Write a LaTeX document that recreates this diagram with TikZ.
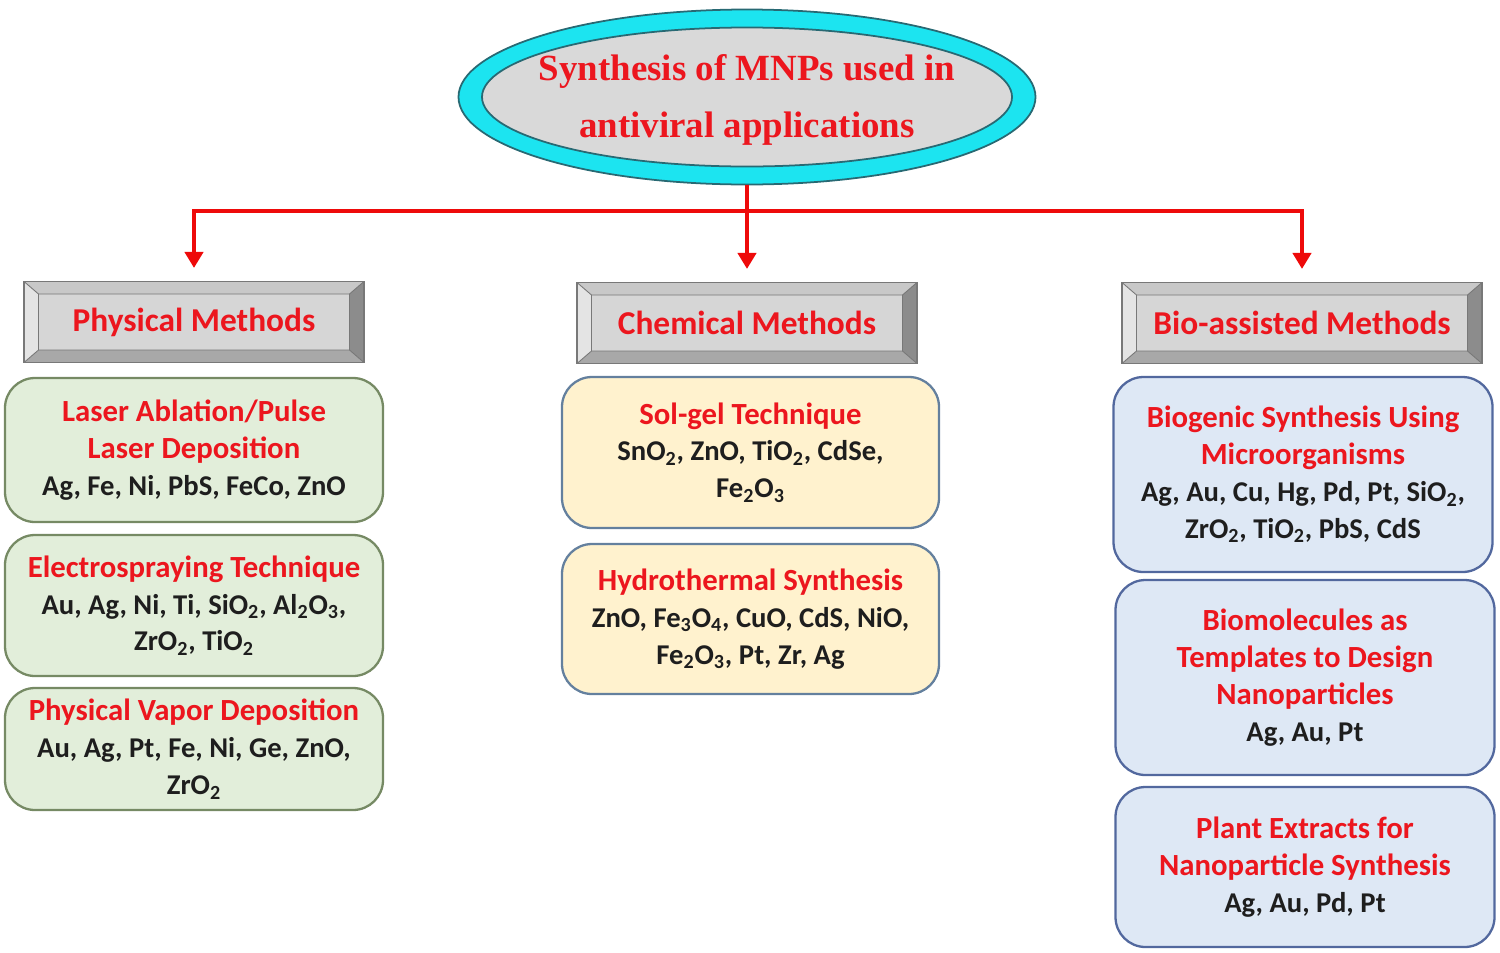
\documentclass[tikz,border=0pt]{standalone}
\usepackage{fontspec}
\setmainfont{Carlito}
\newfontfamily\titlefont{Liberation Serif}
\usetikzlibrary{shapes.geometric,arrows.meta}

\definecolor{headred}{RGB}{236,22,30}
\definecolor{linered}{RGB}{238,10,10}
\definecolor{ringcyan}{RGB}{28,228,240}
\definecolor{ringedge}{RGB}{40,105,115}
\definecolor{ellgray}{RGB}{217,217,217}
\definecolor{bevmid}{RGB}{214,214,214}
\definecolor{bevtop}{RGB}{200,200,200}
\definecolor{bevleft}{RGB}{228,228,228}
\definecolor{bevright}{RGB}{140,140,140}
\definecolor{bevbot}{RGB}{168,168,168}
\definecolor{bevline}{RGB}{120,120,120}
\definecolor{greenfill}{RGB}{226,238,218}
\definecolor{greenedge}{RGB}{118,138,100}
\definecolor{sandfill}{RGB}{255,242,206}
\definecolor{sandedge}{RGB}{100,128,158}
\definecolor{bluefill}{RGB}{222,232,245}
\definecolor{blueedge}{RGB}{82,104,158}
\definecolor{textgray}{RGB}{30,30,30}

\newcommand{\hd}[1]{{\fontsize{17.5}{21}\selectfont\color{headred}#1}}
\newcommand{\sub}[1]{\textsubscript{#1}}

\tikzset{
  ring/.style={ellipse, fill=ringcyan, draw=ringedge, line width=1pt,
    minimum width=115.4mm, minimum height=35mm, inner sep=0pt},
  titletext/.style={align=center, text=headred,
    font=\titlefont\bfseries\fontsize{21}{32}\selectfont},
  bevel/.style={rectangle, fill=bevmid, draw=bevline, line width=0.6pt,
    text=headred, font=\bfseries\fontsize{19}{22}\selectfont,
    minimum width=68mm, minimum height=16.2mm, inner sep=0pt,
    path picture={
      \path (path picture bounding box.north west) coordinate (o1)
            (path picture bounding box.north east) coordinate (o2)
            (path picture bounding box.south east) coordinate (o3)
            (path picture bounding box.south west) coordinate (o4);
      \path ([shift={(2.9mm,-2.5mm)}]o1) coordinate (i1)
            ([shift={(-2.9mm,-2.5mm)}]o2) coordinate (i2)
            ([shift={(-2.9mm,2.5mm)}]o3) coordinate (i3)
            ([shift={(2.9mm,2.5mm)}]o4) coordinate (i4);
      \fill[bevtop] (o1) -- (o2) -- (i2) -- (i1) -- cycle;
      \fill[bevright] (o2) -- (o3) -- (i3) -- (i2) -- cycle;
      \fill[bevbot] (o3) -- (o4) -- (i4) -- (i3) -- cycle;
      \fill[bevleft] (o4) -- (o1) -- (i1) -- (i4) -- cycle;
      \draw[bevline, line width=0.5pt] (i1) rectangle (i3)
        (o1) -- (i1) (o2) -- (i2) (o3) -- (i3) (o4) -- (i4);
    }},
  methodbox/.style={rectangle, rounded corners=6mm, line width=1.3pt,
    align=center, inner sep=0pt, text=textgray,
    font=\bfseries\fontsize{16.3}{21}\selectfont},
  physbox/.style={methodbox, fill=greenfill, draw=greenedge, minimum width=75.6mm},
  chembox/.style={methodbox, fill=sandfill, draw=sandedge, minimum width=75.4mm},
  biobox/.style={methodbox, fill=bluefill, draw=blueedge, minimum width=75.8mm},
  redline/.style={draw=linered, line width=2.3pt},
  redarrow/.style={redline, -{Triangle[width=3.6mm,length=3.2mm]}, shorten >=2.6mm}
}

\begin{document}
\begin{tikzpicture}[x=0.2mm,y=-0.2mm]
\useasboundingbox (0,0) rectangle (1500,952);

% title ellipse
\node[ring] (top) at (747,97) {};
\filldraw[fill=ellgray, draw=ringedge, line width=1pt] (top.center) ellipse [x radius=53mm, y radius=13.9mm];
\node[titletext] (ttl) at (747,100) {Synthesis of MNPs used in\\antiviral applications};

% method headers
\node[bevel] (phys) at (194,322) {Physical Methods};
\node[bevel] (chem) at (747,323) {Chemical Methods};
\node[bevel, minimum width=72mm] (bio) at (1302,323) {Bio-assisted Methods};

% connectors
\coordinate (split) at (747,211);
\draw[redline] (top.south) -- (split);
\draw[redarrow] (split) -| (phys.north);
\draw[redarrow] (split) -- (chem.north);
\draw[redarrow] (split) -| (bio.north);

% physical methods
\node[physbox, minimum height=28.8mm] (laser) at (194,450)
  {\hd{Laser Ablation/Pulse}\\\hd{Laser Deposition}\\Ag, Fe, Ni, PbS, FeCo, ZnO};
\node[physbox, minimum height=28.2mm] (spray) at (194,605.5)
  {\hd{Electrospraying Technique}\\Au, Ag, Ni, Ti, SiO\sub{2}, Al\sub{2}O\sub{3},\\ZrO\sub{2}, TiO\sub{2}};
\node[physbox, minimum height=24.4mm] (pvd) at (194,749)
  {\hd{Physical Vapor Deposition}\\Au, Ag, Pt, Fe, Ni, Ge, ZnO,\\ZrO\sub{2}};

% chemical methods
\node[chembox, minimum height=30.2mm] (solgel) at (750.5,452.5)
  {\hd{Sol-gel Technique}\\SnO\sub{2}, ZnO, TiO\sub{2}, CdSe,\\Fe\sub{2}O\sub{3}};
\node[chembox, minimum height=30mm] (hydro) at (750.5,619)
  {\hd{Hydrothermal Synthesis}\\ZnO, Fe\sub{3}O\sub{4}, CuO, CdS, NiO,\\Fe\sub{2}O\sub{3}, Pt, Zr, Ag};

% bio-assisted methods
\node[biobox, minimum height=39mm] (micro) at (1303,474.5)
  {\hd{Biogenic Synthesis Using}\\\hd{Microorganisms}\\Ag, Au, Cu, Hg, Pd, Pt, SiO\sub{2},\\ZrO\sub{2}, TiO\sub{2}, PbS, CdS};
\node[biobox, minimum height=39mm] (biomol) at (1305,677.5)
  {\hd{Biomolecules as}\\\hd{Templates to Design}\\\hd{Nanoparticles}\\Ag, Au, Pt};
\node[biobox, minimum height=32mm] (plant) at (1305,867)
  {\hd{Plant Extracts for}\\\hd{Nanoparticle Synthesis}\\Ag, Au, Pd, Pt};
\end{tikzpicture}
\end{document}
